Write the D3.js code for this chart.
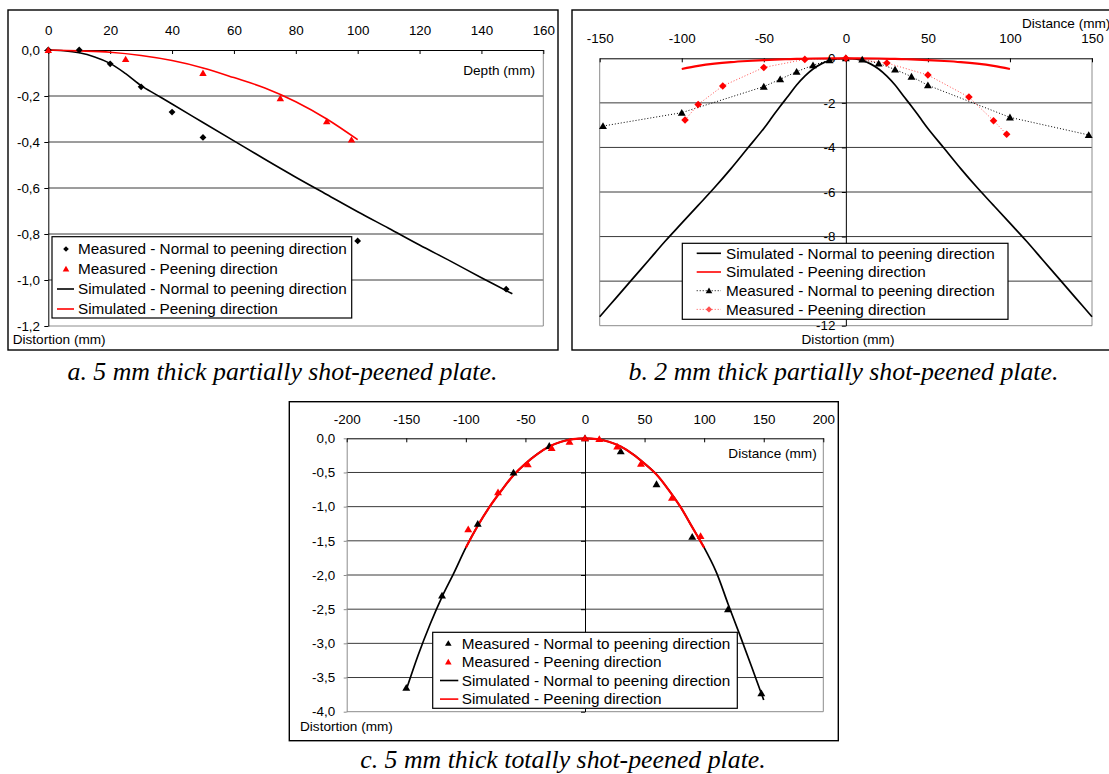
<!DOCTYPE html>
<html><head><meta charset="utf-8">
<script src="https://cdn.jsdelivr.net/npm/d3@7"></script>
<style>
body{margin:0;background:#fff;}
svg{display:block;}
</style></head><body>
<svg id="chart" width="1109" height="774"></svg>
<script>
// ---------------- Panel a: 5 mm thick partially shot-peened plate ----------------
const aTicksX = [0,20,40,60,80,100,120,140,160];
const aTicksY = [0,-0.2,-0.4,-0.6,-0.8,-1.0,-1.2];
const aMeasNormal = [[0,0],[10,0],[20,-0.06],[30,-0.16],[40,-0.27],[50,-0.38],[100,-0.83],[148,-1.04]];
const aMeasPeen = [[0,0],[25,-0.04],[50,-0.10],[75,-0.21],[90,-0.31],[98,-0.39]];
const aSimNormal = [[0,0],[5,-0.003],[10,-0.012],[15,-0.03],[20,-0.058],[25,-0.103],[30,-0.155],[35,-0.195],[40,-0.235],[50,-0.315],[60,-0.395],[70,-0.475],[80,-0.553],[90,-0.628],[100,-0.703],[110,-0.775],[120,-0.848],[130,-0.918],[140,-0.99],[150,-1.06]];
const aSimPeen = [[0,0],[10,-0.004],[20,-0.01],[30,-0.024],[40,-0.046],[50,-0.078],[60,-0.12],[70,-0.165],[80,-0.225],[90,-0.3],[100,-0.39]];
const aLegend = ["Measured - Normal to peening direction","Measured - Peening direction","Simulated - Normal to peening direction","Simulated - Peening direction"];

// ---------------- Panel b: 2 mm thick partially shot-peened plate ----------------
const bTicksX = [-150,-100,-50,0,50,100,150];
const bTicksY = [0,-2,-4,-6,-8,-10,-12];
const bHiddenTick = -10; // label covered by the legend in the original
const bSimNormal = [[-150,-11.6],[-140,-10.75],[-130,-9.9],[-120,-9.05],[-110,-8.2],[-100,-7.4],[-90,-6.6],[-80,-5.8],[-70,-4.95],[-60,-4.05],[-50,-3.15],[-45,-2.65],[-40,-2.15],[-35,-1.68],[-30,-1.2],[-25,-0.8],[-20,-0.48],[-15,-0.25],[-10,-0.1],[-5,-0.02],[0,0],[5,-0.02],[10,-0.1],[15,-0.25],[20,-0.48],[25,-0.8],[30,-1.2],[35,-1.68],[40,-2.15],[45,-2.65],[50,-3.15],[60,-4.05],[70,-4.95],[80,-5.8],[90,-6.6],[100,-7.4],[110,-8.2],[120,-9.05],[130,-9.9],[140,-10.75],[150,-11.6]];
const bSimPeen = [[-100,-0.48],[-90,-0.34],[-80,-0.24],[-70,-0.17],[-60,-0.12],[-50,-0.08],[-40,-0.05],[-30,-0.03],[-20,-0.01],[0,0],[20,-0.01],[30,-0.03],[40,-0.05],[50,-0.08],[60,-0.12],[70,-0.17],[80,-0.24],[90,-0.34],[100,-0.48]];
const bMeasNormal = [[-148,-3.04],[-100,-2.44],[-50,-1.27],[-40,-0.94],[-30,-0.6],[-20,-0.31],[-10,-0.08],[0,0],[10,-0.05],[20,-0.23],[30,-0.5],[40,-0.82],[50,-1.21],[100,-2.65],[148,-3.44]];
const bMeasPeen = [[-98,-2.77],[-90,-2.07],[-75,-1.24],[-50,-0.41],[-25,-0.05],[0,0],[25,-0.21],[50,-0.75],[75,-1.74],[90,-2.8],[98,-3.41]];
const bLegend = ["Simulated - Normal to peening direction","Simulated - Peening direction","Measured - Normal to peening direction","Measured - Peening direction"];

// ---------------- Panel c: 5 mm thick totally shot-peened plate ----------------
const cTicksX = [-200,-150,-100,-50,0,50,100,150,200];
const cTicksY = [0,-0.5,-1.0,-1.5,-2.0,-2.5,-3.0,-3.5,-4.0];
const cMeasNormal = [[-150,-3.65],[-120,-2.3],[-90,-1.25],[-60,-0.5],[-30,-0.11],[0,0],[30,-0.19],[60,-0.67],[90,-1.44],[120,-2.5],[148,-3.73]];
const cMeasPeen = [[-98,-1.33],[-73,-0.79],[-48,-0.38],[-28,-0.14],[-13,-0.05],[0,0],[12,-0.01],[27,-0.12],[47,-0.37],[73,-0.87],[97,-1.43]];
const cSimNormal = [[-150,-3.68],[-140,-3.17],[-130,-2.72],[-120,-2.32],[-110,-1.97],[-100,-1.6],[-90,-1.28],[-80,-1.0],[-70,-0.76],[-60,-0.54],[-50,-0.37],[-40,-0.23],[-30,-0.12],[-20,-0.05],[-10,-0.012],[0,0],[10,-0.012],[20,-0.05],[30,-0.12],[40,-0.23],[50,-0.37],[60,-0.53],[70,-0.75],[80,-1.0],[90,-1.3],[100,-1.6],[110,-1.95],[120,-2.42],[130,-2.88],[140,-3.35],[150,-3.83]];
const cSimPeen = [[-100,-1.6],[-90,-1.28],[-80,-1.0],[-70,-0.76],[-60,-0.54],[-50,-0.37],[-40,-0.23],[-30,-0.12],[-20,-0.05],[-10,-0.012],[0,0],[10,-0.012],[20,-0.05],[30,-0.12],[40,-0.23],[50,-0.37],[60,-0.53],[70,-0.75],[80,-1.0],[90,-1.3],[100,-1.6]];
const cLegend = ["Measured - Normal to peening direction","Measured - Peening direction","Simulated - Normal to peening direction","Simulated - Peening direction"];

const captions = ["a. 5 mm thick partially shot-peened plate.","b. 2 mm thick partially shot-peened plate.","c. 5 mm thick totally shot-peened plate."];

// ---------------------------------------------------------------------------
const SANS = '"Liberation Sans", Arial, sans-serif';
const SERIF = '"Liberation Serif", "Times New Roman", serif';
const RED = "#ff0000";
const GREY = "#8c8c8c";
const GRID = "#3a3a3a";
const loc = d3.formatLocale({decimal:",", thousands:".", grouping:[3], currency:["",""], minus:"-"});
const f1 = loc.format(".1f");
const f0 = loc.format("d");
const svg = d3.select("#chart");

function frame(x0,y0,x1,y1){
  svg.append("rect").attr("x",x0).attr("y",y0).attr("width",x1-x0).attr("height",y1-y0)
    .attr("fill","#fff").attr("stroke","#000").attr("stroke-width",1.4);
}
function shapePath(shape, x, y, r){
  if (shape === "diamond") return `M${x},${y-r}L${x+r},${y}L${x},${y+r}L${x-r},${y}Z`;
  return `M${x},${y-r*1.05}L${x+r*1.1},${y+r*0.85}L${x-r*1.1},${y+r*0.85}Z`;
}
function markers(g, data, x, y, shape, r, color){
  g.append("g").selectAll("path").data(data).join("path")
    .attr("d", d => shapePath(shape, x(d[0]), y(d[1]), r))
    .attr("fill", color).attr("stroke", "none");
}
function curve(g, data, x, y, color, w, dash, smooth){
  const line = d3.line().x(d=>x(d[0])).y(d=>y(d[1])).curve(smooth ? d3.curveCatmullRom.alpha(0.5) : d3.curveLinear);
  g.append("path").attr("d", line(data)).attr("fill","none").attr("stroke",color)
    .attr("stroke-width",w).attr("stroke-dasharray", dash || null).attr("stroke-linejoin","round");
}
function grid(g, ticks, x, y, color){
  g.append("g").selectAll("line").data(ticks).join("line")
    .attr("x1", x.range()[0]).attr("x2", x.range()[1])
    .attr("y1", d => y(d)).attr("y2", d => y(d))
    .attr("stroke", color).attr("stroke-width", 1);
}
function styleAxis(ax, size){
  ax.attr("font-family", SANS).attr("font-size", size);
  ax.selectAll("text").attr("fill", "#000");
  ax.selectAll("line").attr("stroke", "#000");
  ax.selectAll("path.domain").attr("stroke", "#000");
}
function legend(box, entries, cfg){
  const g = svg.append("g");
  g.append("rect").attr("x",box[0]).attr("y",box[1]).attr("width",box[2]-box[0]).attr("height",box[3]-box[1])
    .attr("fill","#fff").attr("stroke","#000").attr("stroke-width",1.2);
  entries.forEach((e,i)=>{
    const cy = cfg.y0 + i*cfg.dy;
    if (e.line) {
      g.append("line").attr("x1",cfg.lx0).attr("x2",cfg.lx1).attr("y1",cy).attr("y2",cy)
        .attr("stroke",e.color).attr("stroke-width",e.w || 1.6).attr("stroke-dasharray", e.dash || null);
    }
    if (e.shape) {
      g.append("path").attr("d", shapePath(e.shape, cfg.mx, cy, e.r || 3)).attr("fill", e.color);
    }
    g.append("text").attr("x",cfg.tx).attr("y",cy+5.3).attr("font-family",SANS).attr("font-size",15.3)
      .attr("fill","#000").text(e.text);
  });
}
function caption(text, cx, by){
  svg.append("text").attr("x",cx).attr("y",by).attr("text-anchor","middle")
    .attr("font-family",SERIF).attr("font-style","italic").attr("font-size",25.8).attr("fill","#000").text(text);
}

// ========================= Panel a =========================
(function(){
  frame(8, 10, 558, 350);
  const x = d3.scaleLinear().domain([0,160]).range([48.3,543.3]);
  const y = d3.scaleLinear().domain([0,-1.2]).range([50,326]);
  const g = svg.append("g");
  grid(g, aTicksY.filter(v => v < 0 && v > -1.2), x, y, GRID);
  g.append("line").attr("x1",x(160)).attr("x2",x(160)).attr("y1",y(0)).attr("y2",y(-1.2)).attr("stroke",GREY);
  g.append("line").attr("x1",x(0)).attr("x2",x(160)).attr("y1",y(-1.2)).attr("y2",y(-1.2)).attr("stroke",GREY);
  const ax = g.append("g").attr("transform",`translate(0,${y(0)})`)
    .call(d3.axisTop(x).tickValues(aTicksX).tickFormat(f0).tickSizeInner(-4).tickSizeOuter(0).tickPadding(15.3));
  styleAxis(ax, 13.4);
  const ay = g.append("g").attr("transform",`translate(${x(0)},0)`)
    .call(d3.axisLeft(y).tickValues(aTicksY).tickFormat(f1).tickSizeInner(4).tickSizeOuter(0).tickPadding(4.3));
  styleAxis(ay, 13.4);
  g.append("text").attr("x",535).attr("y",75).attr("text-anchor","end").attr("font-family",SANS).attr("font-size",13.6).text("Depth (mm)");
  g.append("text").attr("x",12.7).attr("y",344).attr("font-family",SANS).attr("font-size",13.6).text("Distortion (mm)");
  curve(g, aSimNormal, x, y, "#000", 1.6, null, true);
  curve(g, aSimPeen, x, y, RED, 1.6, null, true);
  markers(g, aMeasNormal, x, y, "diamond", 3.4, "#000");
  markers(g, aMeasPeen, x, y, "triangle", 3.4, RED);
  legend([52,236.7,351.7,318], [
    {text:aLegend[0], shape:"diamond", color:"#000", r:2.8},
    {text:aLegend[1], shape:"triangle", color:RED, r:3.0},
    {text:aLegend[2], line:true, color:"#000"},
    {text:aLegend[3], line:true, color:RED}
  ], {y0:249, dy:20, lx0:57, lx1:74, mx:66, tx:78});
})();

// ========================= Panel b =========================
(function(){
  frame(572, 10, 1125, 350);
  const x = d3.scaleLinear().domain([-150,150]).range([599.7,1092]);
  const y = d3.scaleLinear().domain([0,-12]).range([58.3,325.7]);
  const g = svg.append("g");
  grid(g, bTicksY.filter(v => v < 0 && v > -12), x, y, GRID);
  g.append("line").attr("x1",x(150)).attr("x2",x(150)).attr("y1",y(0)).attr("y2",y(-12)).attr("stroke",GREY);
  g.append("line").attr("x1",x(-150)).attr("x2",x(-150)).attr("y1",y(0)).attr("y2",y(-12)).attr("stroke",GREY);
  g.append("line").attr("x1",x(-150)).attr("x2",x(150)).attr("y1",y(-12)).attr("y2",y(-12)).attr("stroke",GREY);
  const ax = g.append("g").attr("transform",`translate(0,${y(0)})`)
    .call(d3.axisTop(x).tickValues(bTicksX).tickFormat(f0).tickSizeInner(-4).tickSizeOuter(0).tickPadding(15.6));
  styleAxis(ax, 13.4);
  const ay = g.append("g").attr("transform",`translate(${x(0)},0)`)
    .call(d3.axisLeft(y).tickValues(bTicksY).tickFormat(d => d === bHiddenTick ? "" : f0(d)).tickSizeInner(4).tickSizeOuter(0).tickPadding(6.5));
  styleAxis(ay, 13.4);
  g.append("text").attr("x",1022).attr("y",27.5).attr("font-family",SANS).attr("font-size",13.6).text("Distance (mm)");
  g.append("text").attr("x",848).attr("y",344).attr("text-anchor","middle").attr("font-family",SANS).attr("font-size",13.6).text("Distortion (mm)");
  curve(g, bMeasNormal, x, y, "#000", 1, "1,2", false);
  curve(g, bMeasPeen, x, y, "#ff5050", 1, "1,2", false);
  curve(g, bSimNormal, x, y, "#000", 1.7, null, true);
  curve(g, bSimPeen, x, y, RED, 2.2, null, true);
  markers(g, bMeasNormal, x, y, "triangle", 3.6, "#000");
  markers(g, bMeasPeen, x, y, "diamond", 3.8, RED);
  legend([682.3,243.3,1008,319.3], [
    {text:bLegend[0], line:true, color:"#000"},
    {text:bLegend[1], line:true, color:RED},
    {text:bLegend[2], line:true, color:"#000", w:1, dash:"1,2", shape:"triangle", r:3.0},
    {text:bLegend[3], line:true, color:"#ff5050", w:1, dash:"1,2", shape:"diamond", r:3.2}
  ], {y0:253.3, dy:18.7, lx0:696.7, lx1:721, mx:709, tx:726});
})();

// ========================= Panel c =========================
(function(){
  frame(289.3, 401.7, 838.3, 740.7);
  const x = d3.scaleLinear().domain([-200,200]).range([346.7,823.3]);
  const y = d3.scaleLinear().domain([0,-4]).range([438.3,711.7]);
  const g = svg.append("g");
  grid(g, cTicksY.filter(v => v < 0 && v > -4), x, y, GRID);
  g.append("line").attr("x1",x(200)).attr("x2",x(200)).attr("y1",y(0)).attr("y2",y(-4)).attr("stroke",GREY);
  g.append("line").attr("x1",x(-200)).attr("x2",x(200)).attr("y1",y(-4)).attr("y2",y(-4)).attr("stroke",GREY);
  const ay = g.append("g").attr("transform",`translate(${x(-200)},0)`)
    .call(d3.axisLeft(y).tickValues(cTicksY).tickFormat(f1).tickSizeInner(3).tickSizeOuter(0).tickPadding(8.5));
  styleAxis(ay, 13.4);
  ay.select("path.domain").attr("stroke", GREY);
  ay.selectAll("line").attr("stroke", GREY);
  // vertical axis through x = 0
  const az = g.append("g").attr("transform",`translate(${x(0)},0)`)
    .call(d3.axisLeft(y).tickValues(cTicksY).tickFormat("").tickSizeInner(4).tickSizeOuter(0));
  styleAxis(az, 13.4);
  const ax = g.append("g").attr("transform",`translate(0,${y(0)})`)
    .call(d3.axisTop(x).tickValues(cTicksX).tickFormat(f0).tickSizeInner(-4).tickSizeOuter(0).tickPadding(14.8));
  styleAxis(ax, 13.4);
  g.append("text").attr("x",816.7).attr("y",458).attr("text-anchor","end").attr("font-family",SANS).attr("font-size",13.6).text("Distance (mm)");
  g.append("text").attr("x",300).attr("y",730.5).attr("font-family",SANS).attr("font-size",13.6).text("Distortion (mm)");
  curve(g, cSimNormal, x, y, "#000", 1.7, null, true);
  curve(g, cSimPeen, x, y, RED, 2.2, null, true);
  markers(g, cMeasNormal, x, y, "triangle", 3.6, "#000");
  markers(g, cMeasPeen, x, y, "triangle", 3.6, RED);
  legend([432.7,632.3,737.3,708.3], [
    {text:cLegend[0], shape:"triangle", color:"#000", r:3.0},
    {text:cLegend[1], shape:"triangle", color:RED, r:3.0},
    {text:cLegend[2], line:true, color:"#000"},
    {text:cLegend[3], line:true, color:RED}
  ], {y0:643.3, dy:18.6, lx0:440, lx1:458.3, mx:448.3, tx:461.7});
})();

caption(captions[0], 282.5, 380);
caption(captions[1], 843.5, 380);
caption(captions[2], 563, 768);
</script>
</body></html>
